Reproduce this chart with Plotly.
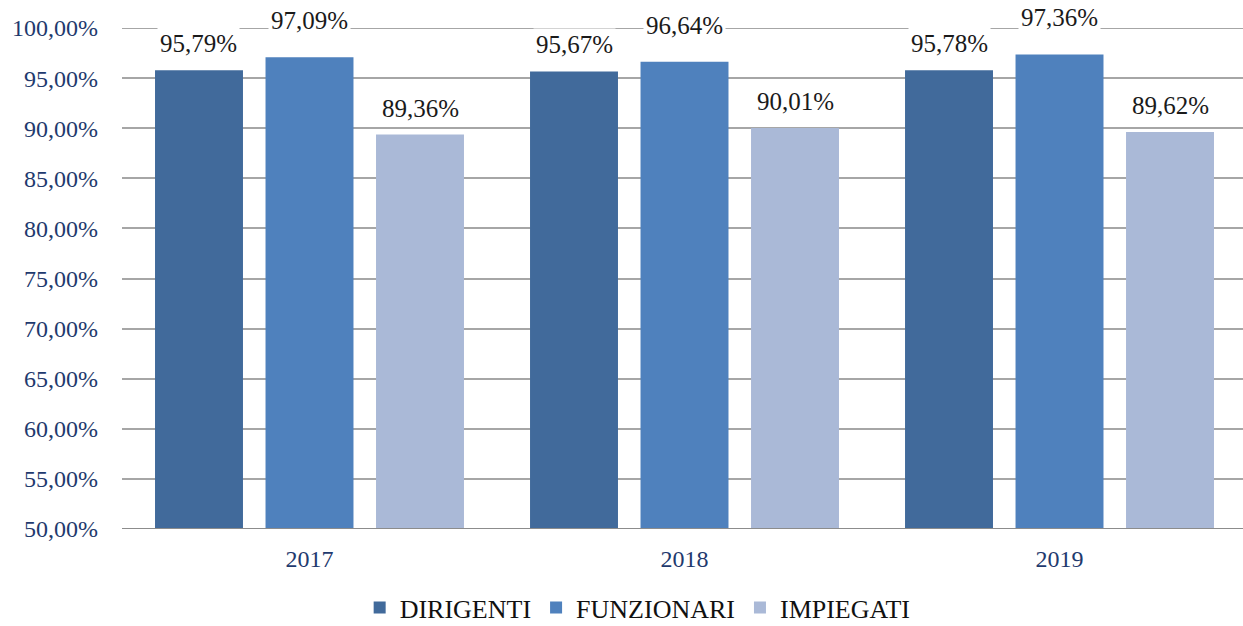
import plotly.graph_objects as go

years = ["2017", "2018", "2019"]
series_names = ["DIRIGENTI", "FUNZIONARI", "IMPIEGATI"]
dirigenti = [95.79, 95.67, 95.78]
funzionari = [97.09, 96.64, 97.36]
impiegati = [89.36, 90.01, 89.62]
y_ticks = [50, 55, 60, 65, 70, 75, 80, 85, 90, 95, 100]

values = [dirigenti, funzionari, impiegati]
colors = ["#416A9B", "#4F81BD", "#AAB9D7"]
label_lift = [10, 20, 10]

FONT = "Liberation Serif"
W, H = 1243, 626
ML, MR, MT, MB = 122, 0, 28, 97
range_x = [-0.5, 2.4893]
bargap = 0.116
bargroupgap = 0.204

def fmt(v):
    return f"{v:.2f}".replace(".", ",") + "%"

fig = go.Figure()
for name, vals, col in zip(series_names, values, colors):
    fig.add_trace(go.Bar(x=years, y=vals, name=name, marker=dict(color=col, line=dict(width=0))))

plot_w = W - ML - MR
px_per_cat = plot_w / (range_x[1] - range_x[0])
slot = px_per_cat * (1 - bargap) / 3
annotations = []
for i, vals in enumerate(values):
    shift = (i - 1) * slot
    for j, v in enumerate(vals):
        annotations.append(dict(x=j, y=v, xref="x", yref="y", text=fmt(v), showarrow=False,
                                xshift=shift, yanchor="bottom", yshift=label_lift[i],
                                bgcolor="white", borderpad=2,
                                font=dict(family=FONT, size=25, color="#1a1a1a")))

shapes = [
    dict(type="line", xref="paper", yref="y", x0=0, x1=1, y0=100, y1=100,
         line=dict(color="#A6A6A6", width=2), layer="below"),
    dict(type="line", xref="paper", yref="y", x0=0, x1=1, y0=50, y1=50,
         line=dict(color="#8C8C8C", width=2), layer="above"),
]

fig.update_layout(
    width=W, height=H,
    margin=dict(l=ML, r=MR, t=MT, b=MB, autoexpand=False),
    paper_bgcolor="white", plot_bgcolor="white",
    barmode="group", bargap=bargap, bargroupgap=bargroupgap,
    font=dict(family=FONT, size=24),
    showlegend=True,
    legend=dict(orientation="h", x=0.46, xanchor="center", y=-0.11, yanchor="top",
                font=dict(family=FONT, size=26, color="#111111"),
                bgcolor="rgba(0,0,0,0)"),
    xaxis=dict(type="category", range=range_x, showgrid=False, showline=False,
               ticks="", tickfont=dict(family=FONT, size=24, color="#1F3A6E"),
               ticklabelstandoff=13),
    yaxis=dict(range=[50, 100], tickvals=y_ticks,
               ticktext=[fmt(t) for t in y_ticks],
               showgrid=True, gridcolor="#A6A6A6", gridwidth=2,
               zeroline=False, showline=False, ticks="",
               tickfont=dict(family=FONT, size=24, color="#1F3A6E"),
               ticklabelstandoff=23),
    annotations=annotations,
    shapes=shapes,
)
fig.write_html("out.html")
